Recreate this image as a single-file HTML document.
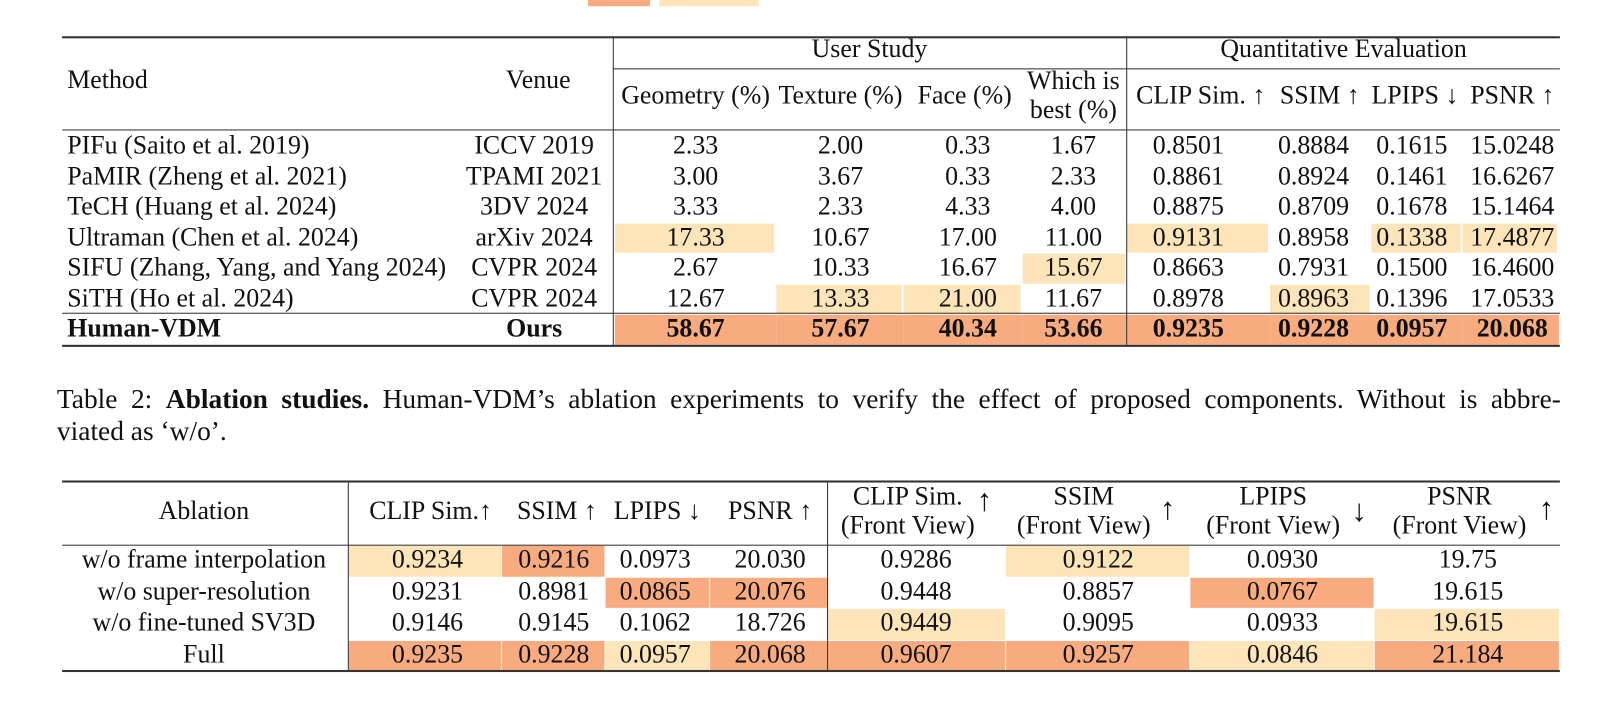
<!DOCTYPE html>
<html><head><meta charset="utf-8">
<style>
html,body{margin:0;padding:0;background:#fff;width:1623px;height:701px;overflow:hidden}
#c{position:absolute;left:0;top:0;width:1568px;height:677px;transform:scale(1.0351,1.0355);transform-origin:0 0;font-family:"Liberation Serif",serif;font-size:25px;color:#111}
.t{position:absolute;white-space:nowrap;line-height:28px;height:28px}
.hl{position:absolute}
.r{position:absolute;background:#333}
.cap{position:absolute;left:55px;width:1453px;font-size:26.5px;line-height:31px;white-space:nowrap}
.ar{font-size:30px}
</style></head><body>
<div id="c">
<div class="hl" style="left:568px;top:-2px;width:60px;height:8px;background:#F7AB7F"></div>
<div class="hl" style="left:637px;top:-2px;width:96px;height:8px;background:#FDE4B9"></div>
<div class="cap" style="top:370px;text-align:justify;text-align-last:justify">Table 2: <b>Ablation studies.</b> Human-VDM’s ablation experiments to verify the effect of proposed components. Without is abbre-</div>
<div class="cap" style="top:401px">viated as ‘w/o’.</div>
</div>
<script>
const t1Methods=["PIFu (Saito et al. 2019)","PaMIR (Zheng et al. 2021)","TeCH (Huang et al. 2024)","Ultraman (Chen et al. 2024)","SIFU (Zhang, Yang, and Yang 2024)","SiTH (Ho et al. 2024)","Human-VDM"];
const t1Venues=["ICCV 2019","TPAMI 2021","3DV 2024","arXiv 2024","CVPR 2024","CVPR 2024","Ours"];
const t1Values=[
["2.33","2.00","0.33","1.67","0.8501","0.8884","0.1615","15.0248"],
["3.00","3.67","0.33","2.33","0.8861","0.8924","0.1461","16.6267"],
["3.33","2.33","4.33","4.00","0.8875","0.8709","0.1678","15.1464"],
["17.33","10.67","17.00","11.00","0.9131","0.8958","0.1338","17.4877"],
["2.67","10.33","16.67","15.67","0.8663","0.7931","0.1500","16.4600"],
["12.67","13.33","21.00","11.67","0.8978","0.8963","0.1396","17.0533"],
["58.67","57.67","40.34","53.66","0.9235","0.9228","0.0957","20.068"]];
const t1Marks=[
[0,0,0,0,0,0,0,0],[0,0,0,0,0,0,0,0],[0,0,0,0,0,0,0,0],
[2,0,0,0,2,0,2,2],[0,0,0,2,0,0,0,0],[0,2,2,0,0,2,0,0],[1,1,1,1,1,1,1,1]];
const t2Names=["w/o frame interpolation","w/o super-resolution","w/o fine-tuned SV3D","Full"];
const t2Values=[
["0.9234","0.9216","0.0973","20.030","0.9286","0.9122","0.0930","19.75"],
["0.9231","0.8981","0.0865","20.076","0.9448","0.8857","0.0767","19.615"],
["0.9146","0.9145","0.1062","18.726","0.9449","0.9095","0.0933","19.615"],
["0.9235","0.9228","0.0957","20.068","0.9607","0.9257","0.0846","21.184"]];
const t2Marks=[[2,1,0,0,0,2,0,0],[0,0,1,1,0,0,1,0],[0,0,0,0,2,0,0,2],[1,1,2,1,1,1,2,1]];

const C=document.getElementById('c');
const COL=["","#F7AB7F","#FDE4B9"];
function txt(s,x,y,align,bold){const d=document.createElement('div');d.className='t';d.textContent=s;
 if(align==='l'){d.style.left=x+'px';}else{d.style.left=(x-200)+'px';d.style.width='400px';d.style.textAlign='center';}
 d.style.top=(y-14)+'px';if(bold)d.style.fontWeight='bold';C.appendChild(d);return d;}
function box(x,y,w,h,c){const d=document.createElement('div');d.className='hl';d.style.cssText=`left:${x}px;top:${y}px;width:${w}px;height:${h}px;background:${c}`;C.insertBefore(d,C.firstChild);return d;}
function rule(x,y,w,h){const d=document.createElement('div');d.className='r';d.style.cssText=`left:${x}px;top:${y}px;width:${w}px;height:${h}px`;C.appendChild(d);return d;}
let e;
const t1Edges=[594,750,873,988,1089,1227,1325,1413,1506];
const t1Cx=[672,812,935,1037,1148,1269,1364,1461];
const t1RowTop=126,t1RowH=29.5;
e=rule(60,35,1447,1.5);


e=rule(592,66,915,1);


e=rule(60,125,1447,1.2);


e=rule(60,302,1447,1.2);


e=rule(60,333,1447,1.5);


e=rule(592,36,1,298);


e=rule(1088,36,1,298);


e=txt("User Study",840,48);


e=txt("Quantitative Evaluation",1298,48);


e=txt("Method",65,78,'l');


e=txt("Venue",520,78);


const t1Heads=["Geometry (%)","Texture (%)","Face (%)","","CLIP Sim. ↑","SSIM ↑","LPIPS ↓","PSNR ↑"];
const t1HeadX=[672,812,932,1037,1160,1275,1367,1461];
t1Heads.forEach((h,i)=>{if(!h)return;e=txt(h,t1HeadX[i],93);

});
e=txt("Which is",1037,79);


e=txt("best (%)",1037,107);


t1Methods.forEach((m,r)=>{const cy=t1RowTop+t1RowH*r+t1RowH/2+0.5;const b=r===6;
 e=txt(m,65,cy,'l',b);
 
 
 e=txt(t1Venues[r],516,cy,'c',b);
 
 
 t1Values[r].forEach((v,j)=>{const mk=t1Marks[r][j];
  if(mk){e=box(t1Edges[j],t1RowTop+t1RowH*r+1,t1Edges[j+1]-t1Edges[j]-(b?0:2),t1RowH-1,COL[mk]);
   
   }
  e=txt(v,t1Cx[j],cy,'c',b);
  
  });
});
const t2Edges=[337,485,585,686,800,972,1150,1328,1507];
const t2Cx=[413,535,633,744,885,1061,1239,1418];
const t2RowTop=526,t2RowH=30.5;
e=rule(60,464,1447,1.5);


e=rule(60,526,1447,1.2);


e=rule(60,647,1447,1.5);


e=rule(336,465,1,183);


e=rule(799,465,1,183);


e=txt("Ablation",197,494);


const t2Heads=["CLIP Sim.↑","SSIM ↑","LPIPS ↓","PSNR ↑"];
const t2HeadX=[416,538,635,744];
t2Heads.forEach((h,i)=>{e=txt(h,t2HeadX[i],494);

});
const fvTop=["CLIP Sim.","SSIM","LPIPS","PSNR"];
const fvX=[877,1047,1230,1410];
const fvArrow=["↑","↑","↓","↑"];
const fvArrowX=[951,1128,1313,1494];
const fvArrowY=[484,492,494,492];
fvTop.forEach((h,i)=>{
 e=txt(h,fvX[i],480);
 
 
 e=txt("(Front View)",fvX[i],508);
 
 
 e=txt(fvArrow[i],fvArrowX[i],fvArrowY[i]);
 e.classList.add('ar');
 
 
});
t2Names.forEach((n,r)=>{const cy=t2RowTop+t2RowH*r+t2RowH/2;
 e=txt(n,197,cy);
 
 
 t2Values[r].forEach((v,j)=>{const mk=t2Marks[r][j];
  if(mk){e=box(t2Edges[j],t2RowTop+t2RowH*r+1,t2Edges[j+1]-t2Edges[j]-1,t2RowH-1,COL[mk]);
   
   }
  e=txt(v,t2Cx[j],cy);
  
  });
});
</script>
</body></html>
